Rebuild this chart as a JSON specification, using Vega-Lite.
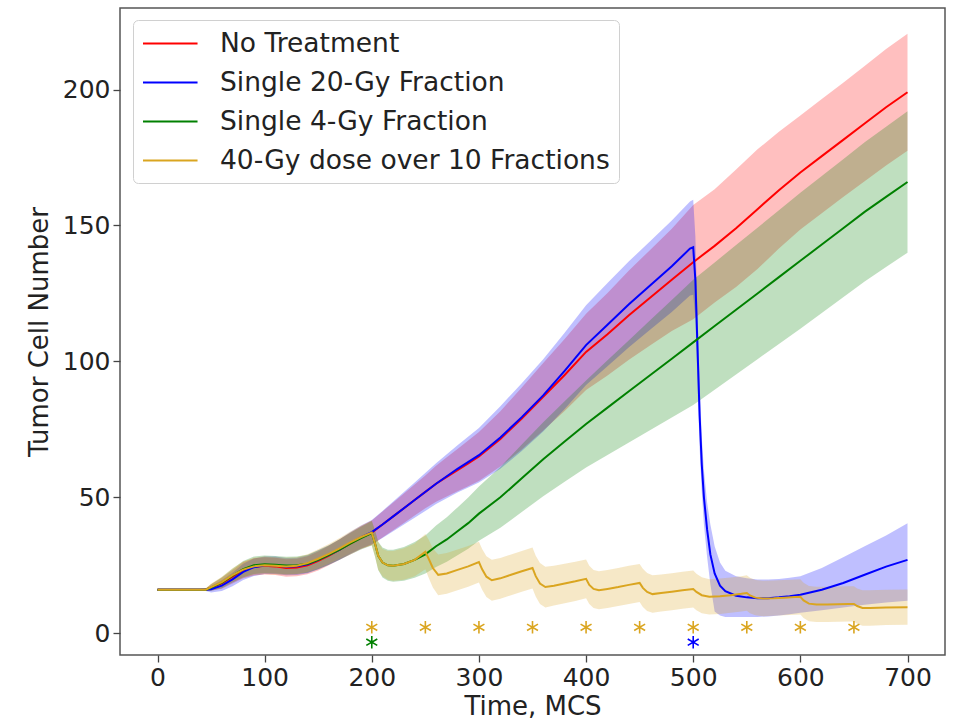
{
  "$schema": "https://vega.github.io/schema/vega-lite/v6.json",
  "autosize": {"type": "none"},
  "width": 825,
  "height": 647,
  "padding": {"left": 120, "top": 8, "right": 15, "bottom": 65},
  "background": "white",
  "config": {
    "font": "DejaVu Sans",
    "view": {"stroke": "#555555", "strokeWidth": 1.5},
    "axis": {
      "domain": false,
      "grid": false,
      "labelFont": "DejaVu Sans",
      "labelFontSize": 25,
      "labelColor": "#222222",
      "tickColor": "#444444",
      "tickSize": 7,
      "tickWidth": 1.3,
      "labelPadding": 3,
      "titleFont": "DejaVu Sans",
      "titleFontSize": 26,
      "titleFontWeight": "normal",
      "titleColor": "#222222"
    },
    "legend": {
      "title": null, "orient": "none", "legendX": 13, "legendY": 12,
      "symbolType": "M-1,0L3.04,0", "symbolSize": 729, "symbolStrokeWidth": 2, "symbolOpacity": 1,
      "labelFont": "DejaVu Sans", "labelFontSize": 26.5, "labelColor": "#222222",
      "labelOffset": 49, "labelLimit": 700, "padding": 9, "rowPadding": 11,
      "fillColor": "white", "strokeColor": "#d0d0d0", "cornerRadius": 5
    }
  },
  "datasets": {
    "curves": [
      {"series":"No Treatment","t":0,"mean":16,"lo":15.6,"hi":16.4},
      {"series":"No Treatment","t":10,"mean":16,"lo":15.6,"hi":16.4},
      {"series":"No Treatment","t":20,"mean":16,"lo":15.6,"hi":16.4},
      {"series":"No Treatment","t":30,"mean":16,"lo":15.6,"hi":16.4},
      {"series":"No Treatment","t":40,"mean":16,"lo":15.6,"hi":16.4},
      {"series":"No Treatment","t":45,"mean":16,"lo":15.5,"hi":16.5},
      {"series":"No Treatment","t":50,"mean":16.8,"lo":15.6,"hi":18},
      {"series":"No Treatment","t":60,"mean":18.4,"lo":16.4,"hi":20.4},
      {"series":"No Treatment","t":70,"mean":20.8,"lo":18.3,"hi":23.3},
      {"series":"No Treatment","t":80,"mean":23.2,"lo":20.2,"hi":26.2},
      {"series":"No Treatment","t":90,"mean":24.4,"lo":21.2,"hi":27.6},
      {"series":"No Treatment","t":100,"mean":24.8,"lo":21.6,"hi":28},
      {"series":"No Treatment","t":110,"mean":24.6,"lo":21.4,"hi":27.8},
      {"series":"No Treatment","t":120,"mean":24,"lo":20.8,"hi":27.2},
      {"series":"No Treatment","t":130,"mean":24.2,"lo":21,"hi":27.4},
      {"series":"No Treatment","t":140,"mean":25,"lo":21.7,"hi":28.3},
      {"series":"No Treatment","t":150,"mean":26.6,"lo":23.1,"hi":30.1},
      {"series":"No Treatment","t":160,"mean":28.6,"lo":25,"hi":32.2},
      {"series":"No Treatment","t":170,"mean":30.8,"lo":27,"hi":34.6},
      {"series":"No Treatment","t":180,"mean":33,"lo":29,"hi":37},
      {"series":"No Treatment","t":190,"mean":35.2,"lo":31,"hi":39.4},
      {"series":"No Treatment","t":200,"mean":37,"lo":32.5,"hi":41.5},
      {"series":"No Treatment","t":210,"mean":40,"lo":35.2,"hi":44.8},
      {"series":"No Treatment","t":220,"mean":43,"lo":37.9,"hi":48.1},
      {"series":"No Treatment","t":230,"mean":46,"lo":40.6,"hi":51.4},
      {"series":"No Treatment","t":240,"mean":49,"lo":43.3,"hi":54.7},
      {"series":"No Treatment","t":250,"mean":52,"lo":46,"hi":58},
      {"series":"No Treatment","t":260,"mean":55,"lo":48.4,"hi":61.6},
      {"series":"No Treatment","t":270,"mean":57.5,"lo":50.3,"hi":64.7},
      {"series":"No Treatment","t":280,"mean":60,"lo":52.2,"hi":67.8},
      {"series":"No Treatment","t":290,"mean":62.5,"lo":54.1,"hi":70.9},
      {"series":"No Treatment","t":300,"mean":65,"lo":56,"hi":74},
      {"series":"No Treatment","t":320,"mean":71.5,"lo":61.3,"hi":81.7},
      {"series":"No Treatment","t":340,"mean":79,"lo":67.6,"hi":90.4},
      {"series":"No Treatment","t":360,"mean":87,"lo":74.6,"hi":99.4},
      {"series":"No Treatment","t":380,"mean":95,"lo":81.8,"hi":108.2},
      {"series":"No Treatment","t":400,"mean":103.5,"lo":89.5,"hi":117.5},
      {"series":"No Treatment","t":420,"mean":110,"lo":94.8,"hi":125.2},
      {"series":"No Treatment","t":440,"mean":117,"lo":100.6,"hi":133.4},
      {"series":"No Treatment","t":460,"mean":123.5,"lo":105.9,"hi":141.1},
      {"series":"No Treatment","t":480,"mean":130,"lo":111.2,"hi":148.8},
      {"series":"No Treatment","t":500,"mean":136.5,"lo":115.5,"hi":157.5},
      {"series":"No Treatment","t":520,"mean":142.5,"lo":121.7,"hi":163.3},
      {"series":"No Treatment","t":540,"mean":149,"lo":127.4,"hi":170.6},
      {"series":"No Treatment","t":560,"mean":156,"lo":134,"hi":178},
      {"series":"No Treatment","t":580,"mean":163,"lo":141.5,"hi":184.5},
      {"series":"No Treatment","t":600,"mean":169.5,"lo":148.5,"hi":190.5},
      {"series":"No Treatment","t":620,"mean":175.5,"lo":154.5,"hi":196.5},
      {"series":"No Treatment","t":640,"mean":181.5,"lo":160.5,"hi":202.5},
      {"series":"No Treatment","t":660,"mean":187.5,"lo":166.3,"hi":208.7},
      {"series":"No Treatment","t":680,"mean":193.5,"lo":172.1,"hi":214.9},
      {"series":"No Treatment","t":700,"mean":199,"lo":177.5,"hi":220.5},

      {"series":"Single 20-Gy Fraction","t":0,"mean":16,"lo":15.6,"hi":16.4},
      {"series":"Single 20-Gy Fraction","t":10,"mean":16,"lo":15.6,"hi":16.4},
      {"series":"Single 20-Gy Fraction","t":20,"mean":16,"lo":15.6,"hi":16.4},
      {"series":"Single 20-Gy Fraction","t":30,"mean":16,"lo":15.6,"hi":16.4},
      {"series":"Single 20-Gy Fraction","t":40,"mean":16,"lo":15.6,"hi":16.4},
      {"series":"Single 20-Gy Fraction","t":45,"mean":16,"lo":15.5,"hi":16.5},
      {"series":"Single 20-Gy Fraction","t":50,"mean":16.2,"lo":15,"hi":17.4},
      {"series":"Single 20-Gy Fraction","t":60,"mean":17.5,"lo":15.5,"hi":19.5},
      {"series":"Single 20-Gy Fraction","t":70,"mean":19.8,"lo":17.3,"hi":22.3},
      {"series":"Single 20-Gy Fraction","t":80,"mean":22.6,"lo":19.6,"hi":25.6},
      {"series":"Single 20-Gy Fraction","t":90,"mean":24.3,"lo":21.1,"hi":27.5},
      {"series":"Single 20-Gy Fraction","t":100,"mean":25,"lo":21.8,"hi":28.2},
      {"series":"Single 20-Gy Fraction","t":110,"mean":25,"lo":21.8,"hi":28.2},
      {"series":"Single 20-Gy Fraction","t":120,"mean":24.5,"lo":21.3,"hi":27.7},
      {"series":"Single 20-Gy Fraction","t":130,"mean":24.6,"lo":21.4,"hi":27.8},
      {"series":"Single 20-Gy Fraction","t":140,"mean":25.4,"lo":22.1,"hi":28.7},
      {"series":"Single 20-Gy Fraction","t":150,"mean":27,"lo":23.5,"hi":30.5},
      {"series":"Single 20-Gy Fraction","t":160,"mean":28.8,"lo":25.2,"hi":32.4},
      {"series":"Single 20-Gy Fraction","t":170,"mean":30.8,"lo":27,"hi":34.6},
      {"series":"Single 20-Gy Fraction","t":180,"mean":33.2,"lo":29.2,"hi":37.2},
      {"series":"Single 20-Gy Fraction","t":190,"mean":35.4,"lo":31.2,"hi":39.6},
      {"series":"Single 20-Gy Fraction","t":200,"mean":37.2,"lo":32.7,"hi":41.7},
      {"series":"Single 20-Gy Fraction","t":210,"mean":40,"lo":35,"hi":45},
      {"series":"Single 20-Gy Fraction","t":220,"mean":43,"lo":37.5,"hi":48.5},
      {"series":"Single 20-Gy Fraction","t":240,"mean":49,"lo":42.5,"hi":55.5},
      {"series":"Single 20-Gy Fraction","t":260,"mean":55,"lo":47.5,"hi":62.5},
      {"series":"Single 20-Gy Fraction","t":280,"mean":60.5,"lo":51.8,"hi":69.2},
      {"series":"Single 20-Gy Fraction","t":300,"mean":65.5,"lo":55.5,"hi":75.5},
      {"series":"Single 20-Gy Fraction","t":320,"mean":72,"lo":60.5,"hi":83.5},
      {"series":"Single 20-Gy Fraction","t":340,"mean":79.5,"lo":67,"hi":92},
      {"series":"Single 20-Gy Fraction","t":360,"mean":87.5,"lo":74.2,"hi":100.8},
      {"series":"Single 20-Gy Fraction","t":380,"mean":96.5,"lo":82.5,"hi":110.5},
      {"series":"Single 20-Gy Fraction","t":400,"mean":106,"lo":91.3,"hi":120.7},
      {"series":"Single 20-Gy Fraction","t":420,"mean":113.5,"lo":98.2,"hi":128.8},
      {"series":"Single 20-Gy Fraction","t":440,"mean":121,"lo":105.2,"hi":136.8},
      {"series":"Single 20-Gy Fraction","t":460,"mean":128,"lo":111.7,"hi":144.3},
      {"series":"Single 20-Gy Fraction","t":480,"mean":135,"lo":118.2,"hi":151.8},
      {"series":"Single 20-Gy Fraction","t":497,"mean":141.5,"lo":124.2,"hi":158.8},
      {"series":"Single 20-Gy Fraction","t":500,"mean":142,"lo":124.5,"hi":159.5},
      {"series":"Single 20-Gy Fraction","t":502,"mean":130,"lo":116,"hi":146},
      {"series":"Single 20-Gy Fraction","t":504,"mean":105,"lo":92,"hi":118},
      {"series":"Single 20-Gy Fraction","t":506,"mean":80,"lo":68,"hi":92},
      {"series":"Single 20-Gy Fraction","t":508,"mean":62,"lo":52,"hi":72},
      {"series":"Single 20-Gy Fraction","t":510,"mean":50,"lo":40,"hi":60},
      {"series":"Single 20-Gy Fraction","t":513,"mean":38,"lo":28,"hi":48},
      {"series":"Single 20-Gy Fraction","t":516,"mean":29,"lo":18,"hi":40},
      {"series":"Single 20-Gy Fraction","t":520,"mean":22,"lo":8,"hi":32},
      {"series":"Single 20-Gy Fraction","t":525,"mean":17.5,"lo":6.5,"hi":26},
      {"series":"Single 20-Gy Fraction","t":530,"mean":15.5,"lo":6,"hi":23},
      {"series":"Single 20-Gy Fraction","t":540,"mean":13.8,"lo":6,"hi":21},
      {"series":"Single 20-Gy Fraction","t":550,"mean":13.2,"lo":6,"hi":20.2},
      {"series":"Single 20-Gy Fraction","t":560,"mean":12.9,"lo":6,"hi":19.8},
      {"series":"Single 20-Gy Fraction","t":570,"mean":12.9,"lo":6.2,"hi":19.8},
      {"series":"Single 20-Gy Fraction","t":580,"mean":13.2,"lo":6.5,"hi":20},
      {"series":"Single 20-Gy Fraction","t":590,"mean":13.6,"lo":7,"hi":20.4},
      {"series":"Single 20-Gy Fraction","t":600,"mean":14.2,"lo":7.5,"hi":21},
      {"series":"Single 20-Gy Fraction","t":620,"mean":16,"lo":8.5,"hi":24},
      {"series":"Single 20-Gy Fraction","t":640,"mean":18.5,"lo":9.5,"hi":28},
      {"series":"Single 20-Gy Fraction","t":660,"mean":21.5,"lo":10.5,"hi":32},
      {"series":"Single 20-Gy Fraction","t":680,"mean":24.5,"lo":11.3,"hi":36},
      {"series":"Single 20-Gy Fraction","t":700,"mean":27,"lo":12,"hi":40.5},

      {"series":"Single 4-Gy Fraction","t":0,"mean":16,"lo":15.6,"hi":16.4},
      {"series":"Single 4-Gy Fraction","t":10,"mean":16,"lo":15.6,"hi":16.4},
      {"series":"Single 4-Gy Fraction","t":20,"mean":16,"lo":15.6,"hi":16.4},
      {"series":"Single 4-Gy Fraction","t":30,"mean":16,"lo":15.6,"hi":16.4},
      {"series":"Single 4-Gy Fraction","t":40,"mean":16,"lo":15.6,"hi":16.4},
      {"series":"Single 4-Gy Fraction","t":45,"mean":16,"lo":15.5,"hi":16.5},
      {"series":"Single 4-Gy Fraction","t":50,"mean":16.8,"lo":15.6,"hi":18},
      {"series":"Single 4-Gy Fraction","t":60,"mean":18.6,"lo":16.6,"hi":20.6},
      {"series":"Single 4-Gy Fraction","t":70,"mean":21.2,"lo":18.7,"hi":23.7},
      {"series":"Single 4-Gy Fraction","t":80,"mean":23.6,"lo":20.6,"hi":26.6},
      {"series":"Single 4-Gy Fraction","t":90,"mean":25,"lo":21.8,"hi":28.2},
      {"series":"Single 4-Gy Fraction","t":100,"mean":25.4,"lo":22.2,"hi":28.6},
      {"series":"Single 4-Gy Fraction","t":110,"mean":25.2,"lo":22,"hi":28.4},
      {"series":"Single 4-Gy Fraction","t":120,"mean":24.9,"lo":21.7,"hi":28.1},
      {"series":"Single 4-Gy Fraction","t":130,"mean":25,"lo":21.8,"hi":28.2},
      {"series":"Single 4-Gy Fraction","t":140,"mean":25.6,"lo":22.3,"hi":28.9},
      {"series":"Single 4-Gy Fraction","t":150,"mean":27,"lo":23.5,"hi":30.5},
      {"series":"Single 4-Gy Fraction","t":160,"mean":28.8,"lo":25.2,"hi":32.4},
      {"series":"Single 4-Gy Fraction","t":170,"mean":30.8,"lo":27,"hi":34.6},
      {"series":"Single 4-Gy Fraction","t":180,"mean":33,"lo":29,"hi":37},
      {"series":"Single 4-Gy Fraction","t":190,"mean":35,"lo":30.8,"hi":39.2},
      {"series":"Single 4-Gy Fraction","t":200,"mean":36.8,"lo":32.3,"hi":41.3},
      {"series":"Single 4-Gy Fraction","t":203,"mean":33,"lo":28.2,"hi":37.8},
      {"series":"Single 4-Gy Fraction","t":206,"mean":28.5,"lo":23.3,"hi":33.7},
      {"series":"Single 4-Gy Fraction","t":210,"mean":26,"lo":20.5,"hi":31.5},
      {"series":"Single 4-Gy Fraction","t":215,"mean":25,"lo":19.3,"hi":30.7},
      {"series":"Single 4-Gy Fraction","t":220,"mean":24.8,"lo":18.9,"hi":30.7},
      {"series":"Single 4-Gy Fraction","t":230,"mean":25.5,"lo":19.3,"hi":31.7},
      {"series":"Single 4-Gy Fraction","t":240,"mean":27,"lo":20.4,"hi":33.6},
      {"series":"Single 4-Gy Fraction","t":250,"mean":29,"lo":22,"hi":36},
      {"series":"Single 4-Gy Fraction","t":260,"mean":32,"lo":24.4,"hi":39.6},
      {"series":"Single 4-Gy Fraction","t":270,"mean":34.5,"lo":26.3,"hi":42.7},
      {"series":"Single 4-Gy Fraction","t":280,"mean":37.5,"lo":28.7,"hi":46.3},
      {"series":"Single 4-Gy Fraction","t":290,"mean":40.5,"lo":31.1,"hi":49.9},
      {"series":"Single 4-Gy Fraction","t":300,"mean":44,"lo":34,"hi":54},
      {"series":"Single 4-Gy Fraction","t":320,"mean":50,"lo":38.8,"hi":61.2},
      {"series":"Single 4-Gy Fraction","t":340,"mean":57,"lo":44.6,"hi":69.4},
      {"series":"Single 4-Gy Fraction","t":360,"mean":64,"lo":50.4,"hi":77.6},
      {"series":"Single 4-Gy Fraction","t":380,"mean":70.5,"lo":55.7,"hi":85.3},
      {"series":"Single 4-Gy Fraction","t":400,"mean":77,"lo":61,"hi":93},
      {"series":"Single 4-Gy Fraction","t":420,"mean":83,"lo":65.6,"hi":100.4},
      {"series":"Single 4-Gy Fraction","t":440,"mean":89,"lo":70.2,"hi":107.8},
      {"series":"Single 4-Gy Fraction","t":460,"mean":95,"lo":74.8,"hi":115.2},
      {"series":"Single 4-Gy Fraction","t":480,"mean":101,"lo":79.4,"hi":122.6},
      {"series":"Single 4-Gy Fraction","t":500,"mean":107,"lo":84,"hi":130},
      {"series":"Single 4-Gy Fraction","t":520,"mean":113,"lo":89.6,"hi":136.4},
      {"series":"Single 4-Gy Fraction","t":540,"mean":119,"lo":95.2,"hi":142.8},
      {"series":"Single 4-Gy Fraction","t":560,"mean":125,"lo":100.8,"hi":149.2},
      {"series":"Single 4-Gy Fraction","t":580,"mean":131,"lo":106.4,"hi":155.6},
      {"series":"Single 4-Gy Fraction","t":600,"mean":137,"lo":112,"hi":162},
      {"series":"Single 4-Gy Fraction","t":620,"mean":143,"lo":117.8,"hi":168.2},
      {"series":"Single 4-Gy Fraction","t":640,"mean":149,"lo":123.6,"hi":174.4},
      {"series":"Single 4-Gy Fraction","t":660,"mean":155,"lo":129.4,"hi":180.6},
      {"series":"Single 4-Gy Fraction","t":680,"mean":160.5,"lo":134.7,"hi":186.3},
      {"series":"Single 4-Gy Fraction","t":700,"mean":166,"lo":140,"hi":192},

      {"series":"40-Gy dose over 10 Fractions","t":0,"mean":16,"lo":15.6,"hi":16.4},
      {"series":"40-Gy dose over 10 Fractions","t":10,"mean":16,"lo":15.6,"hi":16.4},
      {"series":"40-Gy dose over 10 Fractions","t":20,"mean":16,"lo":15.6,"hi":16.4},
      {"series":"40-Gy dose over 10 Fractions","t":30,"mean":16,"lo":15.6,"hi":16.4},
      {"series":"40-Gy dose over 10 Fractions","t":40,"mean":16,"lo":15.6,"hi":16.4},
      {"series":"40-Gy dose over 10 Fractions","t":45,"mean":16,"lo":15.5,"hi":16.5},
      {"series":"40-Gy dose over 10 Fractions","t":50,"mean":17,"lo":15.8,"hi":18.2},
      {"series":"40-Gy dose over 10 Fractions","t":60,"mean":18.8,"lo":16.8,"hi":20.8},
      {"series":"40-Gy dose over 10 Fractions","t":70,"mean":21.4,"lo":18.9,"hi":23.9},
      {"series":"40-Gy dose over 10 Fractions","t":80,"mean":23.4,"lo":20.4,"hi":26.4},
      {"series":"40-Gy dose over 10 Fractions","t":90,"mean":24.6,"lo":21.4,"hi":27.8},
      {"series":"40-Gy dose over 10 Fractions","t":100,"mean":25,"lo":21.8,"hi":28.2},
      {"series":"40-Gy dose over 10 Fractions","t":110,"mean":24.8,"lo":21.6,"hi":28},
      {"series":"40-Gy dose over 10 Fractions","t":120,"mean":24.6,"lo":21.4,"hi":27.8},
      {"series":"40-Gy dose over 10 Fractions","t":130,"mean":24.8,"lo":21.6,"hi":28},
      {"series":"40-Gy dose over 10 Fractions","t":140,"mean":25.8,"lo":22.5,"hi":29.1},
      {"series":"40-Gy dose over 10 Fractions","t":150,"mean":27.4,"lo":23.9,"hi":30.9},
      {"series":"40-Gy dose over 10 Fractions","t":160,"mean":29.2,"lo":25.6,"hi":32.8},
      {"series":"40-Gy dose over 10 Fractions","t":170,"mean":31.2,"lo":27.4,"hi":35},
      {"series":"40-Gy dose over 10 Fractions","t":180,"mean":33.4,"lo":29.4,"hi":37.4},
      {"series":"40-Gy dose over 10 Fractions","t":190,"mean":35.4,"lo":31.2,"hi":39.6},
      {"series":"40-Gy dose over 10 Fractions","t":200,"mean":37,"lo":32.5,"hi":41.5},
      {"series":"40-Gy dose over 10 Fractions","t":203,"mean":33,"lo":28.2,"hi":37.8},
      {"series":"40-Gy dose over 10 Fractions","t":206,"mean":28.5,"lo":23.4,"hi":33.6},
      {"series":"40-Gy dose over 10 Fractions","t":210,"mean":26,"lo":21,"hi":31},
      {"series":"40-Gy dose over 10 Fractions","t":215,"mean":25,"lo":19.7,"hi":30.3},
      {"series":"40-Gy dose over 10 Fractions","t":220,"mean":24.8,"lo":19.3,"hi":30.3},
      {"series":"40-Gy dose over 10 Fractions","t":230,"mean":25.5,"lo":19.7,"hi":31.3},
      {"series":"40-Gy dose over 10 Fractions","t":240,"mean":27,"lo":21,"hi":33},
      {"series":"40-Gy dose over 10 Fractions","t":250,"mean":30,"lo":23.5,"hi":36.5},
      {"series":"40-Gy dose over 10 Fractions","t":253,"mean":27.5,"lo":20.5,"hi":34.5},
      {"series":"40-Gy dose over 10 Fractions","t":257,"mean":24,"lo":16.8,"hi":31.2},
      {"series":"40-Gy dose over 10 Fractions","t":262,"mean":21.5,"lo":14,"hi":29},
      {"series":"40-Gy dose over 10 Fractions","t":270,"mean":22,"lo":14.5,"hi":29.5},
      {"series":"40-Gy dose over 10 Fractions","t":280,"mean":23.3,"lo":15.8,"hi":30.8},
      {"series":"40-Gy dose over 10 Fractions","t":290,"mean":24.6,"lo":17.1,"hi":32.1},
      {"series":"40-Gy dose over 10 Fractions","t":300,"mean":26.2,"lo":18.7,"hi":33.7},
      {"series":"40-Gy dose over 10 Fractions","t":303,"mean":23.5,"lo":16,"hi":31},
      {"series":"40-Gy dose over 10 Fractions","t":307,"mean":20.8,"lo":13.3,"hi":28.3},
      {"series":"40-Gy dose over 10 Fractions","t":312,"mean":19.5,"lo":12,"hi":27},
      {"series":"40-Gy dose over 10 Fractions","t":320,"mean":20.2,"lo":12.7,"hi":27.7},
      {"series":"40-Gy dose over 10 Fractions","t":330,"mean":21.5,"lo":14,"hi":29},
      {"series":"40-Gy dose over 10 Fractions","t":340,"mean":22.8,"lo":15.3,"hi":30.3},
      {"series":"40-Gy dose over 10 Fractions","t":350,"mean":24,"lo":16.5,"hi":31.5},
      {"series":"40-Gy dose over 10 Fractions","t":353,"mean":21,"lo":13.5,"hi":28.5},
      {"series":"40-Gy dose over 10 Fractions","t":357,"mean":18.3,"lo":10.8,"hi":25.8},
      {"series":"40-Gy dose over 10 Fractions","t":362,"mean":17,"lo":9.5,"hi":24.5},
      {"series":"40-Gy dose over 10 Fractions","t":370,"mean":17.5,"lo":10.2,"hi":24.8},
      {"series":"40-Gy dose over 10 Fractions","t":380,"mean":18.3,"lo":11,"hi":25.6},
      {"series":"40-Gy dose over 10 Fractions","t":390,"mean":19.1,"lo":11.9,"hi":26.3},
      {"series":"40-Gy dose over 10 Fractions","t":400,"mean":20,"lo":12.9,"hi":27.1},
      {"series":"40-Gy dose over 10 Fractions","t":403,"mean":17.8,"lo":10.8,"hi":24.8},
      {"series":"40-Gy dose over 10 Fractions","t":407,"mean":16.3,"lo":9.3,"hi":23.3},
      {"series":"40-Gy dose over 10 Fractions","t":412,"mean":15.8,"lo":8.8,"hi":22.8},
      {"series":"40-Gy dose over 10 Fractions","t":420,"mean":16.3,"lo":9.3,"hi":23.3},
      {"series":"40-Gy dose over 10 Fractions","t":430,"mean":17,"lo":10,"hi":24},
      {"series":"40-Gy dose over 10 Fractions","t":440,"mean":17.8,"lo":10.8,"hi":24.8},
      {"series":"40-Gy dose over 10 Fractions","t":450,"mean":18.5,"lo":11.5,"hi":25.5},
      {"series":"40-Gy dose over 10 Fractions","t":453,"mean":16.7,"lo":9.7,"hi":23.7},
      {"series":"40-Gy dose over 10 Fractions","t":457,"mean":15.2,"lo":8.2,"hi":22.2},
      {"series":"40-Gy dose over 10 Fractions","t":462,"mean":14.4,"lo":7.5,"hi":21.3},
      {"series":"40-Gy dose over 10 Fractions","t":470,"mean":14.8,"lo":8,"hi":21.6},
      {"series":"40-Gy dose over 10 Fractions","t":480,"mean":15.3,"lo":8.5,"hi":22.1},
      {"series":"40-Gy dose over 10 Fractions","t":490,"mean":15.8,"lo":9,"hi":22.6},
      {"series":"40-Gy dose over 10 Fractions","t":500,"mean":16.3,"lo":9.5,"hi":23.1},
      {"series":"40-Gy dose over 10 Fractions","t":503,"mean":15.2,"lo":8.5,"hi":21.9},
      {"series":"40-Gy dose over 10 Fractions","t":508,"mean":14,"lo":7.4,"hi":20.6},
      {"series":"40-Gy dose over 10 Fractions","t":515,"mean":13.4,"lo":6.9,"hi":19.9},
      {"series":"40-Gy dose over 10 Fractions","t":525,"mean":13.6,"lo":7.1,"hi":20.1},
      {"series":"40-Gy dose over 10 Fractions","t":535,"mean":14,"lo":7.5,"hi":20.5},
      {"series":"40-Gy dose over 10 Fractions","t":545,"mean":14.5,"lo":8,"hi":21},
      {"series":"40-Gy dose over 10 Fractions","t":550,"mean":14.8,"lo":8.3,"hi":21.3},
      {"series":"40-Gy dose over 10 Fractions","t":553,"mean":13.9,"lo":7.4,"hi":20.4},
      {"series":"40-Gy dose over 10 Fractions","t":558,"mean":13.1,"lo":6.6,"hi":19.6},
      {"series":"40-Gy dose over 10 Fractions","t":565,"mean":12.8,"lo":6.3,"hi":19.3},
      {"series":"40-Gy dose over 10 Fractions","t":575,"mean":12.9,"lo":6.4,"hi":19.4},
      {"series":"40-Gy dose over 10 Fractions","t":585,"mean":13.1,"lo":6.6,"hi":19.6},
      {"series":"40-Gy dose over 10 Fractions","t":595,"mean":13.3,"lo":6.8,"hi":19.8},
      {"series":"40-Gy dose over 10 Fractions","t":600,"mean":13.4,"lo":6.9,"hi":19.9},
      {"series":"40-Gy dose over 10 Fractions","t":603,"mean":12.1,"lo":5.6,"hi":18.6},
      {"series":"40-Gy dose over 10 Fractions","t":608,"mean":10.9,"lo":4.4,"hi":17.4},
      {"series":"40-Gy dose over 10 Fractions","t":615,"mean":10.6,"lo":4.1,"hi":17.1},
      {"series":"40-Gy dose over 10 Fractions","t":625,"mean":10.6,"lo":4.1,"hi":17.1},
      {"series":"40-Gy dose over 10 Fractions","t":635,"mean":10.7,"lo":4.2,"hi":17.2},
      {"series":"40-Gy dose over 10 Fractions","t":645,"mean":10.8,"lo":4.3,"hi":17.3},
      {"series":"40-Gy dose over 10 Fractions","t":650,"mean":10.8,"lo":4.3,"hi":17.3},
      {"series":"40-Gy dose over 10 Fractions","t":653,"mean":10,"lo":3.5,"hi":16.5},
      {"series":"40-Gy dose over 10 Fractions","t":658,"mean":9.3,"lo":2.8,"hi":15.8},
      {"series":"40-Gy dose over 10 Fractions","t":665,"mean":9.3,"lo":2.8,"hi":15.8},
      {"series":"40-Gy dose over 10 Fractions","t":680,"mean":9.5,"lo":3,"hi":16},
      {"series":"40-Gy dose over 10 Fractions","t":700,"mean":9.6,"lo":3.1,"hi":16.1}
    ],
    "doses": [
      {"series":"40-Gy dose over 10 Fractions","t":200,"y":2.2},
      {"series":"40-Gy dose over 10 Fractions","t":250,"y":2.2},
      {"series":"40-Gy dose over 10 Fractions","t":300,"y":2.2},
      {"series":"40-Gy dose over 10 Fractions","t":350,"y":2.2},
      {"series":"40-Gy dose over 10 Fractions","t":400,"y":2.2},
      {"series":"40-Gy dose over 10 Fractions","t":450,"y":2.2},
      {"series":"40-Gy dose over 10 Fractions","t":500,"y":2.2},
      {"series":"40-Gy dose over 10 Fractions","t":550,"y":2.2},
      {"series":"40-Gy dose over 10 Fractions","t":600,"y":2.2},
      {"series":"40-Gy dose over 10 Fractions","t":650,"y":2.2},
      {"series":"Single 4-Gy Fraction","t":200,"y":-3.3},
      {"series":"Single 20-Gy Fraction","t":500,"y":-3.3}
    ]
  },
  "encoding": {
    "x": {"field": "t", "type": "quantitative", "scale": {"domain": [-35, 735], "nice": false, "zero": false},
          "axis": {"values": [0,100,200,300,400,500,600,700], "title": "Time, MCS", "titlePadding": 3}},
    "color": {"field": "series", "type": "nominal",
              "scale": {"domain": ["No Treatment","Single 20-Gy Fraction","Single 4-Gy Fraction","40-Gy dose over 10 Fractions"],
                        "range": ["#ff0000","#0000ff","#008000","#daa520"]}}
  },
  "layer": [
    {
      "data": {"name": "curves"},
      "mark": {"type": "area", "fillOpacity": 0.25},
      "encoding": {
        "y": {"field": "lo", "type": "quantitative", "scale": {"domain": [-8, 230], "nice": false, "zero": false},
              "axis": {"values": [0,50,100,150,200], "title": "Tumor Cell Number", "titlePadding": 10}},
        "y2": {"field": "hi"}
      }
    },
    {
      "data": {"name": "curves"},
      "mark": {"type": "line", "strokeWidth": 2},
      "encoding": {
        "y": {"field": "mean", "type": "quantitative"}
      }
    },
    {
      "data": {"name": "doses"},
      "mark": {"type": "point", "filled": false, "strokeWidth": 1.6, "opacity": 1,
               "shape": "M0,-1L0,1M-0.866,-0.5L0.866,0.5M-0.866,0.5L0.866,-0.5", "size": 160},
      "encoding": {
        "y": {"field": "y", "type": "quantitative"}
      }
    }
  ]
}
